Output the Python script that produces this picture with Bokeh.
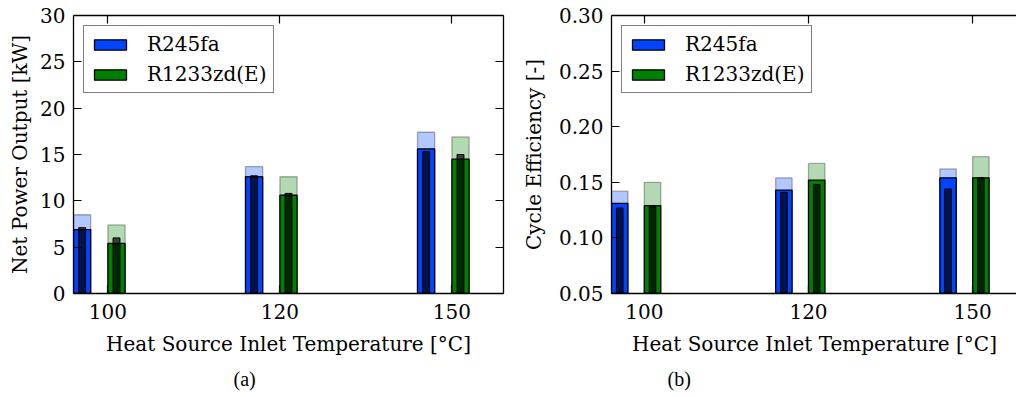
from bokeh.plotting import figure
from bokeh.models import (ColumnDataSource, FixedTicker, LinearAxis, Range1d,
                          Legend, LegendItem, Title, NumeralTickFormatter)
from bokeh.layouts import row
from bokeh.embed import file_html
from bokeh.resources import INLINE

# ---------------- data ----------------
temps = ["100", "120", "150"]          # heat source inlet temperature [°C]
fluids = ["R245fa", "R1233zd(E)"]

# Net power output [kW]
power_r245fa_max = [8.5, 13.7, 17.4]
power_r245fa = [6.9, 12.6, 15.6]
power_r245fa_inner = [7.1, 12.7, 15.3]
power_r1233_max = [7.4, 12.6, 16.9]
power_r1233 = [5.4, 10.6, 14.5]
power_r1233_inner = [6.0, 10.8, 15.0]

# Cycle efficiency [-]
eff_r245fa_max = [0.142, 0.154, 0.162]
eff_r245fa = [0.131, 0.143, 0.154]
eff_r245fa_inner = [0.127, 0.141, 0.144]
eff_r1233_max = [0.150, 0.167, 0.173]
eff_r1233 = [0.129, 0.152, 0.154]
eff_r1233_inner = [0.128, 0.148, 0.154]

power_ticks = [0, 5, 10, 15, 20, 25, 30]
eff_ticks = [0.05, 0.10, 0.15, 0.20, 0.25, 0.30]

# ---------------- style ----------------
BLUE = "#0044ff"
GREEN = "#008000"
FONT = "DejaVu Serif"
FS = "20px"
BAR_W = 0.1
INNER_W = 0.04
OFFSETS = [-0.15, 0.05]


def style_axis(ax):
    ax.axis_line_color = "black"
    ax.axis_line_width = 1.3
    ax.major_tick_line_color = "black"
    ax.major_tick_line_width = 1.2
    ax.major_tick_in = 8
    ax.major_tick_out = 0
    ax.minor_tick_line_color = None
    ax.major_label_text_font = FONT
    ax.major_label_text_color = "black"
    ax.major_label_text_font_size = FS
    ax.major_label_standoff = 8
    ax.axis_label_text_font = FONT
    ax.axis_label_text_font_style = "normal"
    ax.axis_label_text_color = "black"
    ax.axis_label_text_font_size = FS


def mirror_axis(ticks):
    # frame side with inward ticks only (minor ticks => no tick labels)
    ax = LinearAxis(ticker=FixedTicker(ticks=[], minor_ticks=ticks))
    ax.axis_line_color = "black"
    ax.axis_line_width = 1.3
    ax.major_tick_line_color = None
    ax.minor_tick_line_color = "black"
    ax.minor_tick_line_width = 1.2
    ax.minor_tick_in = 8
    ax.minor_tick_out = 0
    ax.major_label_standoff = 0
    return ax


def make_panel(ylabel, series, y_rng, yticks, ymt_fmt, frame_w, x_end,
               min_left, min_right, right_axis, ylab_standoff,
               caption, cap_offset):
    p = figure(frame_width=frame_w, frame_height=278,
               min_border_left=min_left, min_border_right=min_right,
               min_border_top=15, min_border_bottom=104,
               x_range=Range1d(-0.2, x_end), y_range=Range1d(*y_rng),
               output_backend="svg", toolbar_location=None,
               x_axis_type=None, y_axis_type=None)
    p.outline_line_color = None
    p.background_fill_color = "white"
    p.border_fill_color = "white"
    p.grid.visible = False

    xticks = list(range(len(temps)))
    overrides = {i: t for i, t in enumerate(temps)}

    xb = LinearAxis(ticker=FixedTicker(ticks=xticks),
                    axis_label="Heat Source Inlet Temperature [°C]",
                    major_label_overrides=overrides)
    style_axis(xb)
    xb.major_label_standoff = 10
    xb.axis_label_standoff = 10
    p.add_layout(xb, "below")
    p.add_layout(mirror_axis(xticks), "above")

    yl = LinearAxis(ticker=FixedTicker(ticks=yticks), axis_label=ylabel)
    style_axis(yl)
    yl.axis_label_standoff = ylab_standoff
    if ymt_fmt:
        yl.formatter = NumeralTickFormatter(format=ymt_fmt)
    p.add_layout(yl, "left")
    if right_axis:
        p.add_layout(mirror_axis(yticks), "right")

    items = []
    for k, (color, (vmax, vmid, vin)) in enumerate(zip([BLUE, GREEN], series)):
        xs = [i + OFFSETS[k] for i in range(len(temps))]
        src = ColumnDataSource(dict(x=xs, vmax=vmax, vmid=vmid, vin=vin))
        p.vbar(x="x", top="vmax", bottom=0, width=BAR_W, source=src,
               fill_color=color, fill_alpha=0.3, line_color="black",
               line_alpha=0.3, line_width=1.3)
        r = p.vbar(x="x", top="vmid", bottom=0, width=BAR_W, source=src,
                   fill_color=color, line_color="black", line_width=1.3)
        p.vbar(x="x", top="vin", bottom=0, width=INNER_W, source=src,
               fill_color="black", fill_alpha=0.7, line_color="black",
               line_width=1.0)
        items.append(LegendItem(label=fluids[k], renderers=[r]))

    leg = Legend(items=items, location="top_left")
    leg.margin = 10
    leg.padding = 6
    leg.spacing = 6
    leg.glyph_width = 40
    leg.glyph_height = 13
    leg.label_standoff = 17
    leg.label_text_font = FONT
    leg.label_text_font_size = FS
    leg.label_text_color = "black"
    leg.border_line_color = "black"
    leg.border_line_width = 1.3
    leg.background_fill_color = "white"
    leg.background_fill_alpha = 1.0
    p.add_layout(leg)

    p.add_layout(Title(text=caption, align="left", offset=cap_offset,
                       standoff=15, text_font="Liberation Serif",
                       text_font_size="20px", text_font_style="normal",
                       text_color="black"), "below")
    return p


p1 = make_panel("Net Power Output [kW]",
                [(power_r245fa_max, power_r245fa, power_r245fa_inner),
                 (power_r1233_max, power_r1233, power_r1233_inner)],
                (0, 30), power_ticks, None, 430, 2.3, 73, 15, True, 5,
                "(a)", 160)
p2 = make_panel("Cycle Efficiency [-]",
                [(eff_r245fa_max, eff_r245fa, eff_r245fa_inner),
                 (eff_r1233_max, eff_r1233, eff_r1233_inner)],
                (0.05, 0.30), eff_ticks, "0.00", 406, 2.273, 92, 0, False, 10,
                "(b)", 56)

layout = row(p1, p2)
open("out.html", "w").write(file_html(layout, INLINE))
